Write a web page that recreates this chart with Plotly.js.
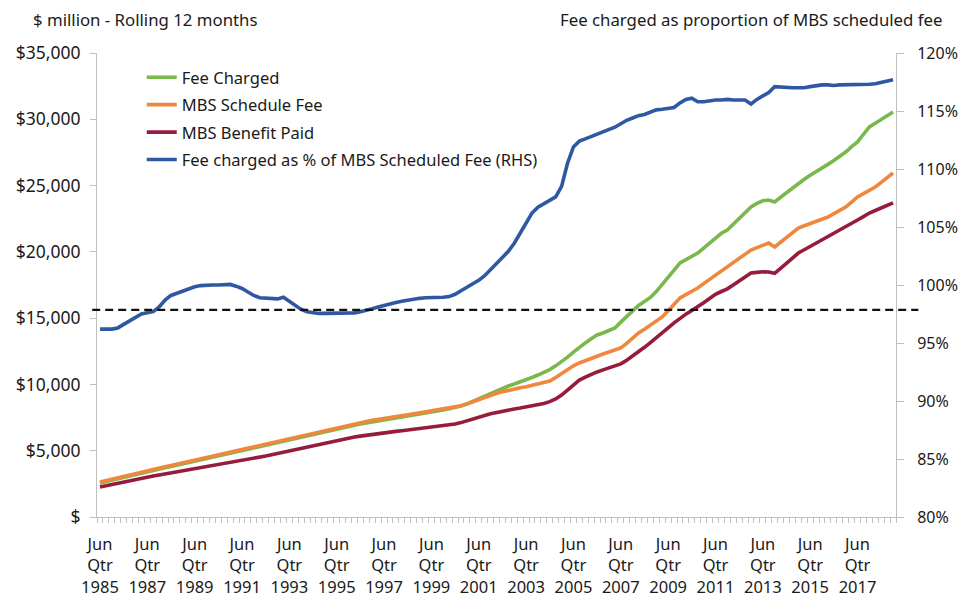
<!DOCTYPE html>
<html>
<head>
<meta charset="utf-8">
<script src="https://cdn.plot.ly/plotly-3.0.1.min.js"></script>
<style>
html,body{margin:0;padding:0;background:#fff;}
#chart{width:958px;height:597px;}
</style>
</head>
<body>
<div id="chart"></div>
<script>
// Quarters: Jun Qtr 1985 ... Dec Qtr 2018 (135 quarters)
const quarterNames = ["Mar","Jun","Sep","Dec"];
const categories = [];
(function(){
  let q = 1, y = 1985;
  for (let k = 0; k < 135; k++) {
    categories.push(quarterNames[q] + " Qtr " + y);
    q++; if (q === 4) { q = 0; y++; }
  }
})();

const tickCategories = ["Jun Qtr 1985","Jun Qtr 1987","Jun Qtr 1989","Jun Qtr 1991","Jun Qtr 1993","Jun Qtr 1995","Jun Qtr 1997","Jun Qtr 1999","Jun Qtr 2001","Jun Qtr 2003","Jun Qtr 2005","Jun Qtr 2007","Jun Qtr 2009","Jun Qtr 2011","Jun Qtr 2013","Jun Qtr 2015","Jun Qtr 2017"];
const tickLabels = ["Jun<br>Qtr<br>1985","Jun<br>Qtr<br>1987","Jun<br>Qtr<br>1989","Jun<br>Qtr<br>1991","Jun<br>Qtr<br>1993","Jun<br>Qtr<br>1995","Jun<br>Qtr<br>1997","Jun<br>Qtr<br>1999","Jun<br>Qtr<br>2001","Jun<br>Qtr<br>2003","Jun<br>Qtr<br>2005","Jun<br>Qtr<br>2007","Jun<br>Qtr<br>2009","Jun<br>Qtr<br>2011","Jun<br>Qtr<br>2013","Jun<br>Qtr<br>2015","Jun<br>Qtr<br>2017"];

const feeCharged = [
2560,2670,2780,2890,3000,3100,3200,3300,
3400,3500,3600,3710,3810,3910,4010,4110,
4210,4310,4410,4510,4610,4710,4810,4920,
5040,5170,5280,5380,5480,5580,5680,5780,
5880,5980,6080,6180,6280,6380,6480,6570,
6670,6760,6840,6920,7010,7100,7190,7270,
7340,7400,7470,7540,7610,7680,7750,7830,
7910,7990,8080,8170,8260,8370,8540,8740,
8950,9150,9350,9540,9720,9880,10030,10180,
10330,10520,10710,10900,11120,11400,11690,12060,
12440,12820,13130,13440,13730,13880,14060,14260,
14700,15150,15600,15960,16260,16560,17000,17570,
18100,18630,19160,19420,19660,19910,20280,20660,
21030,21400,21650,22100,22520,22950,23380,23650,
23850,23910,23760,24120,24480,24840,25190,25480,
25780,26080,26370,26600,26890,27200,27530,27940,
28290,28870,29420,29700,29980,30260,30550];

const mbsScheduleFee = [
2640,2750,2860,2970,3080,3180,3280,3380,
3480,3580,3680,3790,3890,3990,4090,4190,
4290,4390,4490,4590,4690,4790,4890,5000,
5120,5250,5360,5460,5560,5660,5760,5860,
5960,6060,6160,6260,6360,6460,6560,6660,
6760,6860,6940,7020,7110,7200,7290,7370,
7440,7500,7570,7640,7710,7780,7850,7920,
7990,8060,8140,8220,8300,8390,8520,8680,
8850,9030,9200,9330,9440,9560,9660,9750,
9830,9920,10020,10120,10250,10520,10820,11120,
11400,11620,11800,11980,12140,12290,12440,12600,
12750,13100,13500,13880,14170,14480,14790,15090,
15560,16040,16520,16770,17020,17270,17600,17920,
18230,18550,18860,19180,19500,19820,20140,20320,
20500,20670,20370,20730,21080,21440,21800,21970,
22130,22300,22460,22630,22880,23130,23380,23760,
24140,24390,24640,24890,25240,25600,25950];

const mbsBenefitPaid = [
2263,2360,2460,2560,2660,2750,2840,2930,
3010,3090,3170,3250,3330,3410,3490,3570,
3650,3730,3810,3890,3970,4050,4130,4210,
4260,4310,4400,4500,4600,4700,4800,4900,
5000,5100,5200,5300,5400,5500,5600,5700,
5790,5870,5950,6030,6100,6170,6240,6300,
6360,6410,6460,6510,6560,6610,6660,6710,
6760,6820,6880,6940,7020,7120,7240,7380,
7520,7660,7790,7890,7980,8070,8150,8220,
8290,8370,8450,8560,8700,8900,9200,9550,
9950,10330,10550,10760,10940,11100,11240,11380,
11550,11830,12130,12450,12800,13150,13500,13880,
14270,14640,15010,15300,15570,15840,16160,16480,
16800,17010,17210,17500,17800,18100,18400,18450,
18500,18480,18380,18760,19150,19530,19910,20160,
20400,20650,20890,21140,21380,21630,21880,22140,
22400,22660,22930,23120,23310,23500,23690];

const feePctOfSchedule = [
96.2,96.2,96.2,96.3,96.6,96.9,97.2,97.5,
97.6,97.7,98.1,98.7,99.1,99.3,99.5,99.7,
99.85,99.95,100.0,100.0,100.0,100.05,100.05,99.9,
99.7,99.4,99.1,98.9,98.85,98.85,98.8,98.95,
98.6,98.2,97.9,97.7,97.6,97.55,97.55,97.55,
97.55,97.55,97.6,97.6,97.7,97.8,97.95,98.1,
98.25,98.4,98.5,98.6,98.7,98.8,98.85,98.9,
98.9,98.9,98.95,99.0,99.2,99.5,99.8,100.1,
100.4,100.8,101.3,101.8,102.3,102.9,103.6,104.5,
105.4,106.2,106.7,107.0,107.3,107.6,108.5,110.5,
111.9,112.4,112.6,112.8,113.0,113.2,113.4,113.6,
113.9,114.2,114.4,114.6,114.7,114.9,115.1,115.15,
115.2,115.3,115.7,116.0,116.1,115.8,115.8,115.9,
115.95,115.95,116.0,115.95,115.95,115.95,115.6,116.0,
116.3,116.6,117.1,117.05,117.0,117.0,117.0,117.0,
117.1,117.2,117.25,117.25,117.2,117.25,117.25,117.25,
117.25,117.3,117.3,117.35,117.45,117.6,117.7];

const referenceLevel = 97.85; // dashed line, RHS %

const leftTickVals = [0,5000,10000,15000,20000,25000,30000,35000];
const leftTickText = ["$","$5,000","$10,000","$15,000","$20,000","$25,000","$30,000","$35,000"];
const rightTickVals = [80,85,90,95,100,105,110,115,120];
const rightTickText = ["80%","85%","90%","95%","100%","105%","110%","115%","120%"];

const xIdx = categories.map((c, i) => i);
const tickIdx = tickCategories.map(c => categories.indexOf(c));

const FONT = "Noto Sans, Open Sans, sans-serif";
const lw = 3.6;

const traces = [
  {x: xIdx, y: feeCharged, text: categories, name: "Fee Charged", type: "scatter", mode: "lines", legendgroup: "a",
   line: {color: "#79b84b", width: lw}},
  {x: xIdx, y: mbsScheduleFee, text: categories, name: "MBS Schedule Fee", type: "scatter", mode: "lines", legendgroup: "b",
   line: {color: "#ef873d", width: lw}},
  {x: xIdx, y: mbsBenefitPaid, text: categories, name: "MBS Benefit Paid", type: "scatter", mode: "lines", legendgroup: "c",
   line: {color: "#961c3c", width: lw}},
  {x: xIdx, y: feePctOfSchedule, text: categories, name: "Fee charged as % of MBS Scheduled Fee (RHS)", type: "scatter", mode: "lines", legendgroup: "d",
   yaxis: "y2", line: {color: "#2f58a2", width: lw}}
];

const layout = {
  width: 958, height: 597,
  margin: {l: 97, r: 62, t: 53, b: 80},
  paper_bgcolor: "#ffffff", plot_bgcolor: "#ffffff",
  font: {family: FONT, size: 16, color: "#1a1a1a"},
  showlegend: true,
  legend: {x: 0.056, y: 0.985, xanchor: "left", yanchor: "top", bgcolor: "rgba(0,0,0,0)",
           traceorder: "grouped", tracegroupgap: 3,
           font: {family: FONT, size: 16.5, color: "#1a1a1a"}},
  xaxis: {
    range: [-0.5, 134.5], showgrid: false, zeroline: false,
    showline: true, linecolor: "#bfbfbf", linewidth: 1,
    tickmode: "array", tickvals: tickIdx, ticktext: tickLabels,
    ticks: "", ticklabelstandoff: 12,
    tickfont: {family: FONT, size: 16.5, color: "#1a1a1a"},
    minor: {ticks: "outside", ticklen: 5, tickcolor: "#bfbfbf", tickwidth: 1, dtick: 1, tick0: 0.5, showgrid: false}
  },
  yaxis: {
    range: [0, 35000], showgrid: false, zeroline: false,
    showline: true, linecolor: "#bfbfbf", linewidth: 1,
    tickmode: "array", tickvals: leftTickVals, ticktext: leftTickText,
    ticks: "outside", ticklen: 6, tickcolor: "#bfbfbf", ticklabelstandoff: 6,
    tickfont: {family: FONT, size: 17.5, color: "#1a1a1a"}
  },
  yaxis2: {
    overlaying: "y", side: "right",
    range: [80, 120], showgrid: false, zeroline: false,
    showline: true, linecolor: "#bfbfbf", linewidth: 1,
    tickmode: "array", tickvals: rightTickVals, ticktext: rightTickText,
    ticks: "outside", ticklen: 7, tickcolor: "#bfbfbf", ticklabelstandoff: 10,
    tickfont: {family: FONT, size: 16, color: "#1a1a1a"}
  },
  shapes: [
    {type: "line", xref: "paper", yref: "y2", x0: -0.006, x1: 1.028, y0: referenceLevel, y1: referenceLevel,
     line: {color: "#111111", width: 2.2, dash: "8px,5px"}}
  ],
  annotations: [
    {xref: "paper", yref: "paper", x: -0.082, y: 1.0, xanchor: "left", yanchor: "bottom", yshift: 20,
     text: "$ million - Rolling 12 months", showarrow: false, font: {family: FONT, size: 16.8, color: "#1a1a1a"}},
    {xref: "paper", yref: "paper", x: 1.06, y: 1.0, xanchor: "right", yanchor: "bottom", yshift: 20,
     text: "Fee charged as proportion of MBS scheduled fee", showarrow: false, font: {family: FONT, size: 16.8, color: "#1a1a1a"}}
  ]
};

Plotly.newPlot("chart", traces, layout, {displayModeBar: false, staticPlot: true});
</script>
</body>
</html>
